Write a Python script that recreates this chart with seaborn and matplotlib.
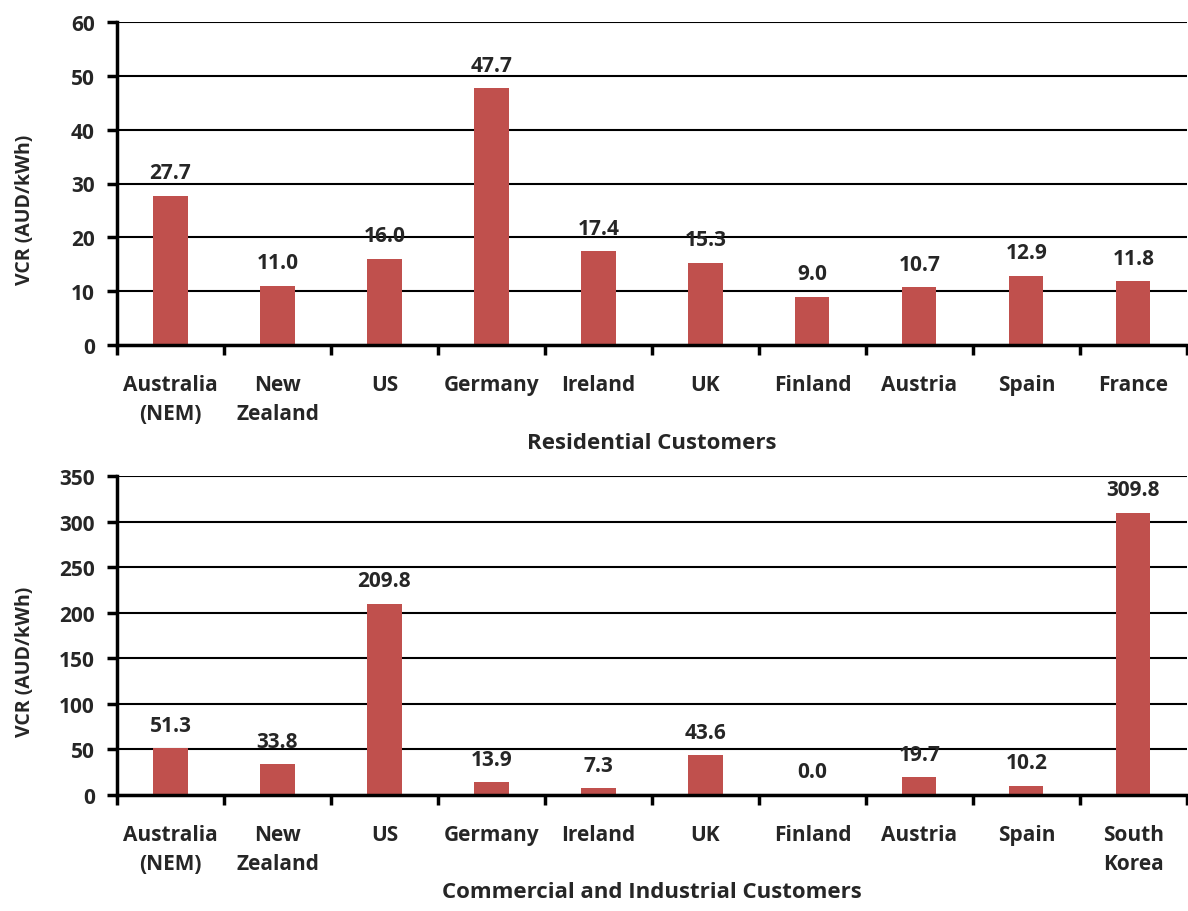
import matplotlib
matplotlib.use("Agg")
import matplotlib.pyplot as plt
import seaborn as sns
import pandas as pd

res_categories = ["Australia\n(NEM)", "New\nZealand", "US", "Germany", "Ireland",
                  "UK", "Finland", "Austria", "Spain", "France"]
res_values = [27.7, 11.0, 16.0, 47.7, 17.4, 15.3, 9.0, 10.7, 12.9, 11.8]

ci_categories = ["Australia\n(NEM)", "New\nZealand", "US", "Germany", "Ireland",
                 "UK", "Finland", "Austria", "Spain", "South\nKorea"]
ci_values = [51.3, 33.8, 209.8, 13.9, 7.3, 43.6, 0.0, 19.7, 10.2, 309.8]

sns.set_theme(style="white")
plt.rcParams['font.family'] = ['Open Sans', 'DejaVu Sans']
plt.rcParams['font.weight'] = 'bold'

BAR = '#C0504D'

fig = plt.figure(figsize=(11.88, 9.12), dpi=100)
ax1 = fig.add_axes([117/1188, 1-346/912, 1-117/1188-0.001, (346-23)/912])
ax2 = fig.add_axes([117/1188, 1-796/912, 1-117/1188-0.001, (796-477)/912])

def panel(ax, cats, vals, ymax, step, xlabel, xlabelpad):
    df = pd.DataFrame({"cat": cats, "val": vals})
    sns.barplot(data=df, x="cat", y="val", color=BAR, width=0.32, ax=ax,
                saturation=1, edgecolor='none', zorder=3)
    ax.set_xlim(-0.5, len(cats) - 0.5)
    ax.set_ylim(0, ymax)
    ax.set_yticks(range(0, ymax + 1, step))
    ax.yaxis.grid(True, color='black', linewidth=1.5, zorder=0)
    ax.set_axisbelow(True)
    for s in ['top', 'right']:
        ax.spines[s].set_visible(False)
    for s in ['left', 'bottom']:
        ax.spines[s].set_color('black')
        ax.spines[s].set_linewidth(2.5)
        ax.spines[s].set_zorder(5)
    ax.tick_params(axis='y', which='major', direction='out', length=7, width=2.5,
                   color='black', left=True, labelsize=15, pad=9)
    ax.tick_params(axis='x', which='major', length=0, labelsize=15, pad=21)
    ax.set_xticks([i - 0.5 for i in range(len(cats) + 1)], minor=True)
    ax.tick_params(axis='x', which='minor', direction='out', length=7, width=2.5,
                   color='black', bottom=True)
    for lab in ax.get_xticklabels() + ax.get_yticklabels():
        lab.set_fontweight('bold')
        lab.set_linespacing(1.5)
    for container in ax.containers:
        ax.bar_label(container, fmt='%.1f', padding=9, fontsize=15, fontweight='bold')
    ax.set_xlabel(xlabel, fontsize=16, fontweight='bold', labelpad=xlabelpad)
    ax.set_ylabel("VCR (AUD/kWh)", fontsize=14, fontweight='bold')
    ax.yaxis.set_label_coords(-0.077, 0.42)

panel(ax1, res_categories, res_values, 60, 10, "Residential Customers", 6)
panel(ax2, ci_categories, ci_values, 350, 50, "Commercial and Industrial Customers", 5)

fig.savefig("out.png", dpi=100)
